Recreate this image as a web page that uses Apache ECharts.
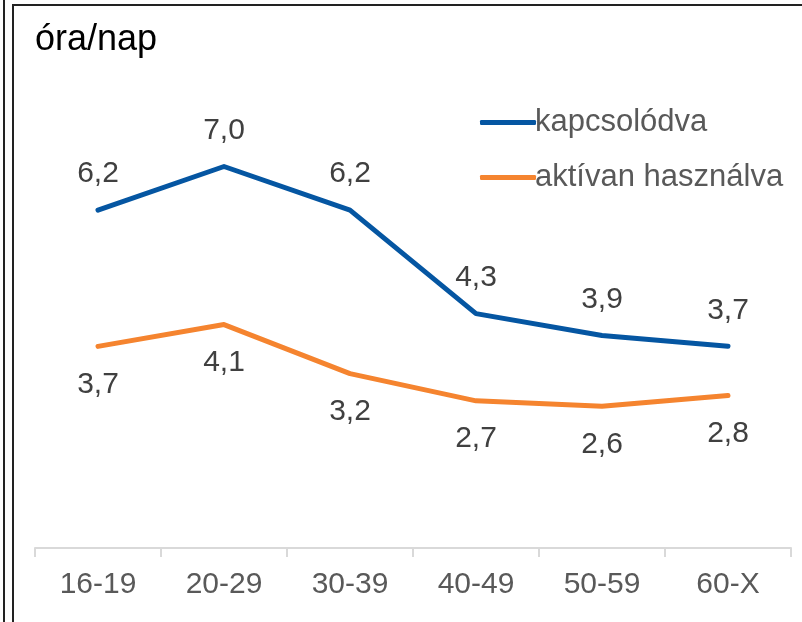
<!DOCTYPE html>
<html>
<head>
<meta charset="utf-8">
<script src="https://cdn.jsdelivr.net/npm/echarts@6/dist/echarts.min.js"></script>
<style>html,body{margin:0;padding:0;background:#fff;}#c{width:802px;height:622px;}</style>
</head>
<body>
<div id="c"></div>
<script>
const categories = ['16-19', '20-29', '30-39', '40-49', '50-59', '60-X'];
const kapcsolodva = [6.2, 7.0, 6.2, 4.3, 3.9, 3.7];
const aktivan = [3.7, 4.1, 3.2, 2.7, 2.6, 2.8];
const seriesNames = ['kapcsolódva', 'aktívan használva'];
const fmt = p => p.value.toFixed(1).replace('.', ',');
const FONT = 'Liberation Sans, Arial, sans-serif';

const chart = echarts.init(document.getElementById('c'), null, {renderer: 'canvas'});
chart.setOption({
  animation: false,
  backgroundColor: '#fff',
  title: {
    text: 'óra/nap', left: 30, top: 17,
    textStyle: {fontFamily: FONT, fontSize: 36, fontWeight: 'normal', color: '#000'}
  },
  legend: {
    orient: 'vertical', left: 475, top: 102, itemGap: 24,
    itemWidth: 56, itemHeight: 5, icon: 'roundRect',
    data: seriesNames,
    textStyle: {fontFamily: FONT, fontSize: 31, color: '#595959', padding: [0, 0, 0, -6]}
  },
  grid: {left: 35, right: 11, top: 112, bottom: 74, containLabel: false},
  xAxis: {
    type: 'category', data: categories, boundaryGap: true,
    axisLine: {lineStyle: {color: '#d9d9d9', width: 2}},
    axisTick: {show: true, length: 9, lineStyle: {color: '#d9d9d9', width: 2}},
    axisLabel: {fontFamily: FONT, fontSize: 30, color: '#595959', margin: 22}
  },
  yAxis: {
    type: 'value', min: 0, max: 8, show: false, splitLine: {show: false}
  },
  series: [
    {
      name: seriesNames[0], type: 'line', data: kapcsolodva,
      symbol: 'circle', symbolSize: 0, showSymbol: true,
      lineStyle: {color: '#0556a2', width: 5, cap: 'round', join: 'round'},
      itemStyle: {color: '#0556a2'},
      label: {show: true, position: 'top', distance: 21, formatter: fmt,
        fontFamily: FONT, fontSize: 30, color: '#404040'}
    },
    {
      name: seriesNames[1], type: 'line', data: aktivan,
      symbol: 'circle', symbolSize: 0, showSymbol: true,
      lineStyle: {color: '#f5842f', width: 5, cap: 'round', join: 'round'},
      itemStyle: {color: '#f5842f'},
      label: {show: true, position: 'bottom', distance: 23, formatter: fmt,
        fontFamily: FONT, fontSize: 30, color: '#404040'}
    }
  ],
  graphic: [
    {type: 'line', shape: {x1: 4, y1: 0, x2: 4, y2: 622}, style: {stroke: '#222', lineWidth: 2}},
    {type: 'line', shape: {x1: 13, y1: 5, x2: 13, y2: 622}, style: {stroke: '#222', lineWidth: 2}},
    {type: 'line', shape: {x1: 12, y1: 5, x2: 802, y2: 5}, style: {stroke: '#222', lineWidth: 2}}
  ]
});
</script>
</body>
</html>
